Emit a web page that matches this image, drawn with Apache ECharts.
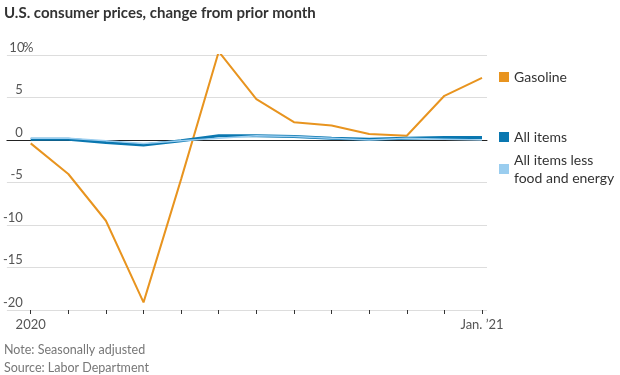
<!DOCTYPE html>
<html>
<head>
<meta charset="utf-8">
<script src="https://cdn.jsdelivr.net/npm/echarts@6/dist/echarts.min.js"></script>
<style>
  html, body { margin: 0; padding: 0; background: #fff; }
  #chart { width: 620px; height: 375px; }
</style>
</head>
<body>
<div id="chart"></div>
<script>
// months Jan 2020 .. Jan 2021
var months = ['Jan', 'Feb', 'Mar', 'Apr', 'May', 'Jun', 'Jul', 'Aug', 'Sep', 'Oct', 'Nov', 'Dec', 'Jan21'];
var monthLabels = { 0: '2020', 12: 'Jan. \u201921' };
var gasoline = [-0.4, -4.0, -9.5, -19.1, -4.6, 10.4, 4.8, 2.1, 1.7, 0.7, 0.5, 5.2, 7.3];
var allItems = [0.1, 0.1, -0.3, -0.6, -0.1, 0.5, 0.5, 0.4, 0.2, 0.1, 0.2, 0.3, 0.3];
var coreItems = [0.2, 0.2, -0.1, -0.4, -0.1, 0.2, 0.5, 0.4, 0.2, 0.0, 0.2, 0.1, 0.0];
var yTicks = { min: -20, max: 10, step: 5 };

var FONT = 'Lato';
var C_GAS = '#e8941f',
	C_ALL = '#0a77b0',
	C_CORE = '#9acdef';

var chart = echarts.init(document.getElementById('chart'), null, { renderer: 'canvas' });

function legendAt(name, top) {
	return {
		data: [name],
		left: 494,
		top: top,
		orient: 'vertical',
		icon: 'rect',
		itemWidth: 10,
		itemHeight: 10,
		itemGap: 0,
		selectedMode: false,
		textStyle: { fontFamily: FONT, fontSize: 14, color: '#333', lineHeight: 18 },
		formatter: function (n) {
			return n == 'All items less food and energy' ? 'All items less\nfood and energy' : n;
		}
	};
}

var option = {
	animation: false,
	title: [
		{
			text: 'U.S. consumer prices, change from prior month',
			left: -1, top: 1,
			textStyle: { fontFamily: FONT, fontSize: 15, fontWeight: 'bold', color: '#333' }
		},
		{
			text: 'Note: Seasonally adjusted\nSource: Labor Department',
			left: -1, top: 336,
			textStyle: { fontFamily: FONT, fontSize: 12.5, fontWeight: 'normal', color: '#777', lineHeight: 18 }
		}
	],
	legend: [
		legendAt('Gasoline', 63),
		legendAt('All items', 123),
		legendAt('All items less food and energy', 146)
	],
	grid: [
		// full width grid for gridlines and the zero line
		{ left: 0, right: 133, top: 55, bottom: 65 },
		// plot grid for the series
		{ left: 30.7, right: 138, top: 55, bottom: 65 }
	],
	xAxis: [
		{
			gridIndex: 0, type: 'value', min: 0, max: 1,
			axisLine: { show: true, onZero: true, lineStyle: { color: '#222', width: 1 } },
			axisTick: { show: false }, axisLabel: { show: false }, splitLine: { show: false }
		},
		{
			gridIndex: 1, type: 'category', data: months, boundaryGap: false,
			axisLine: { show: false, onZero: false },
			axisTick: { show: true, interval: 0, length: 4, lineStyle: { color: '#333' } },
			axisLabel: {
				interval: 0, margin: 8,
				fontFamily: FONT, fontSize: 13, color: '#555',
				formatter: function (v, i) { return monthLabels[i] || ''; }
			},
			splitLine: { show: false }
		}
	],
	yAxis: [
		{
			gridIndex: 0, type: 'value',
			min: yTicks.min, max: yTicks.max, interval: yTicks.step,
			axisLine: { show: false }, axisTick: { show: false },
			splitLine: { show: true, lineStyle: { color: '#ddd', width: 1 } },
			axisLabel: {
				inside: true, margin: 4, align: 'left', verticalAlign: 'bottom',
				fontFamily: FONT, fontSize: 13, color: '#555', padding: [0, 0, 1, 0],
				formatter: function (v) {
					return '{n|' + v + '}' + (v == yTicks.max ? '%' : '');
				},
				rich: { n: { width: 12, align: 'right', fontFamily: FONT, fontSize: 13, color: '#555' } }
			}
		},
		{
			gridIndex: 1, type: 'value', show: false,
			min: yTicks.min, max: yTicks.max, interval: yTicks.step,
			splitLine: { show: false }
		}
	],
	series: [
		{
			name: 'Gasoline', type: 'line', xAxisIndex: 1, yAxisIndex: 1,
			data: gasoline, symbol: 'none', color: C_GAS,
			lineStyle: { width: 2, color: C_GAS }
		},
		{
			name: 'All items', type: 'line', xAxisIndex: 1, yAxisIndex: 1,
			data: allItems, symbol: 'none', color: C_ALL,
			lineStyle: { width: 3, color: C_ALL }
		},
		{
			name: 'All items less food and energy', type: 'line', xAxisIndex: 1, yAxisIndex: 1,
			data: coreItems, symbol: 'none', color: C_CORE,
			lineStyle: { width: 1.5, color: C_CORE }
		}
	]
};

chart.setOption(option);
</script>
</body>
</html>
